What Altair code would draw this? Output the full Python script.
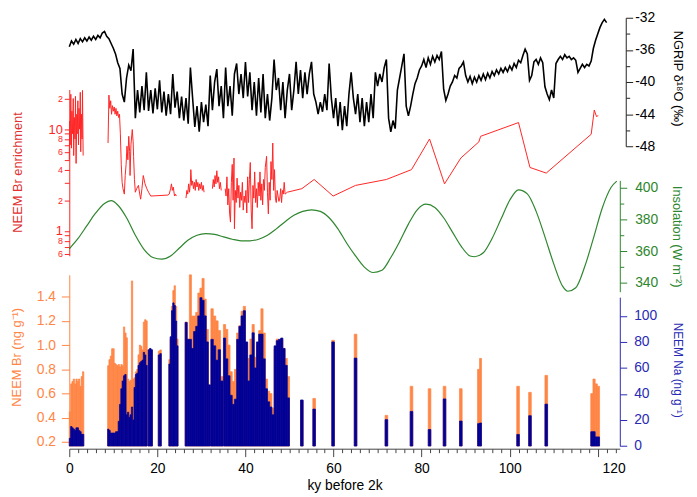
import altair as alt
import pandas as pd

FONT = "Liberation Sans"
RED = "#ff2424"
GREEN = "#2e862e"
ORANGE = "#ff8646"
BLUE_BAR = "#000096"
BLUE_AX = "#2a2ab4"

# ---------------- NGRIP d18O (0.5 ky grid, 0-122 ky) ----------------
ngrip_step = 0.5
ngrip_d18o = [
    -35.6, -34.9, -35.3, -34.7, -35.2, -34.6, -35.0, -34.5, -34.9, -34.4,
    -34.8, -34.3, -34.7, -34.2, -34.5, -33.9, -33.7, -34.3, -34.6, -35.2,
    -35.8, -36.5, -37.6, -38.3, -41.5, -42.5, -39.5, -37.9, -38.6, -35.9,
    -44.5, -41.0, -43.8, -40.5, -43.5, -38.8, -43.6, -41.0, -43.9, -40.8,
    -43.4, -39.8, -43.8, -41.2, -44.2, -41.5, -44.0, -39.0, -43.2, -41.2,
    -44.5, -41.8, -44.8, -42.0, -45.2, -38.2, -42.0, -45.6, -43.0, -46.2,
    -42.5, -45.0, -42.8, -45.5, -39.2, -43.5, -40.0, -38.4, -43.0, -40.5,
    -44.5, -38.2, -43.0, -40.5, -44.2, -39.0, -37.7, -41.5, -39.0, -42.0,
    -37.5, -41.8, -38.8, -43.5, -40.0, -44.2, -39.5, -43.8, -39.0, -44.5,
    -41.5, -44.8, -42.0, -37.2, -41.0, -39.5, -43.5, -40.0, -44.5, -41.0,
    -39.0, -43.5, -41.0, -37.5, -41.5, -38.5, -42.0, -38.8, -41.5, -39.0,
    -37.5, -41.5, -42.5, -44.0, -42.5, -43.7, -41.5, -43.5, -37.7, -42.0,
    -44.5, -42.0, -45.5, -42.5, -46.0, -43.0, -45.5, -41.5, -38.8, -42.0,
    -44.0, -41.5, -45.0, -42.0, -45.5, -42.5, -45.0, -41.5, -44.5, -38.8,
    -40.5, -39.0, -40.0, -38.2, -37.2, -44.5, -46.2, -44.8, -45.8, -41.0,
    -39.5, -38.0, -36.5, -43.0, -44.2, -43.0, -41.5, -40.2, -39.5, -38.5,
    -38.0, -37.2, -38.2, -37.0, -37.8, -36.8, -37.5, -36.7, -37.2, -36.2,
    -40.9, -42.3, -41.5, -40.5, -40.0, -39.2, -39.5, -38.3, -38.0, -37.5,
    -39.2, -40.0, -39.3, -40.2, -39.4, -40.0, -39.2, -39.8, -39.0, -39.7,
    -38.9, -39.5, -38.7, -39.2, -38.5, -39.0, -38.3, -38.8, -38.2, -38.7,
    -38.0, -38.5, -37.7, -38.2, -37.3, -37.6, -36.7, -35.9, -36.5, -39.8,
    -39.2, -37.5, -37.2, -37.8, -37.0, -37.6, -40.6, -41.5, -42.2, -41.0,
    -42.0, -37.7, -37.2, -36.8, -37.2, -36.6, -37.0, -36.8, -37.2, -37.0,
    -37.3, -38.8, -38.3, -37.8, -38.2, -37.8, -38.0, -37.4, -35.8, -34.8,
    -34.0, -33.2, -32.6, -32.2, -32.6,
]
ngrip_age = [i * ngrip_step for i in range(len(ngrip_d18o))]

# ---------------- NEEM Br enrichment (log) ----------------
enr_age_1 = [0.0, 0.1, 0.2, 0.35, 0.5, 0.6, 0.75, 0.9, 1.0, 1.15, 1.3, 1.4, 1.55,
             1.7, 1.8, 1.95, 2.1, 2.2, 2.35, 2.5, 2.6, 2.75, 2.9, 3.0, 3.15]
enr_val_1 = [5, 12, 7, 22, 6.5, 15, 9, 20, 5.5, 13, 8, 21, 4.6,
             14, 9, 19, 7, 16, 10, 23, 6, 14, 8, 24, 5.5]
enr_age_2 = [8.8, 9.0, 9.2, 9.4, 9.6, 9.8, 10.0, 10.2, 10.4, 10.6, 10.8, 11.0, 11.2,
             11.4, 11.6, 11.8, 12.0, 12.2, 12.5, 12.7, 12.9, 13.1, 13.3, 13.5, 13.7,
             13.8, 14.0, 14.3, 14.5, 14.6, 14.8, 15.0, 15.3, 15.7, 16.0, 16.2, 16.5,
             16.8, 17.2, 17.6, 18.0, 18.5, 22.4, 22.7, 23.0, 23.2, 23.4, 23.6, 23.9,
             24.1, 24.3]
enr_val_2 = [7.3, 21.6, 16, 19, 14, 17, 15, 16.5, 14, 16, 13.5, 15, 13,
             14, 9, 4.5, 3.0, 2.6, 2.3, 3.5, 4.5, 6.8, 5.0, 8.5, 6,
             3.5, 7, 9.9, 7.5, 5.4, 3.2, 2.4, 2.6, 2.8, 2.3, 2.05, 2.6,
             3.5, 2.9, 2.6, 2.4, 2.2, 2.25, 2.3, 2.6, 2.9, 2.5, 2.7, 2.2,
             2.3, 2.2]
enr_age_3 = [26.5, 26.7, 26.9, 27.1, 27.3, 27.5, 27.6, 27.8, 28.0, 28.2, 28.4,
             28.6, 28.8, 29.0, 29.2, 29.4, 29.6, 29.8, 30.0, 30.2, 30.4, 30.6]
enr_val_3 = [2.1, 2.5, 2.3, 2.9, 2.4, 3.0, 4.0, 2.8, 3.1, 2.6, 3.0,
             2.5, 3.2, 2.7, 3.0, 2.5, 2.9, 2.6, 3.0, 2.5, 2.8, 2.4]
enr_age_4 = [32.5, 32.7, 32.9, 33.1, 33.3, 33.5, 33.7, 33.9, 34.1, 34.3, 34.5]
enr_val_4 = [2.6, 3.2, 2.7, 3.5, 2.9, 3.9, 3.0, 3.4, 2.6, 3.0, 2.5]
enr_age_5 = [35.4, 35.6, 35.8, 36.0, 36.2, 36.4, 36.6, 36.8, 37.0, 37.2, 37.4, 37.5,
             37.7, 37.9, 38.1, 38.3, 38.5, 38.7, 38.9, 39.1, 39.3, 39.5, 39.7, 39.9,
             40.1, 40.3, 40.5, 40.7, 40.9, 41.1, 41.3, 41.5, 41.7, 41.9, 42.1, 42.3,
             42.5, 42.7, 42.9, 43.1, 43.3, 43.5, 43.7, 43.9, 44.1, 44.3, 44.5, 44.8,
             45.0, 45.2, 45.4, 45.6, 45.8, 46.0, 46.2, 46.4, 46.6, 46.8, 47.0, 47.2,
             47.4, 47.6, 47.8, 48.0, 48.2, 48.4, 48.6, 48.8, 49.0, 49.5,
             52.8, 55.6, 59.9, 65.0, 72.0, 77.7, 81.8, 85.2, 88.9, 93.0, 93.4,
             102.0, 104.6, 108.3, 118.5, 119.2, 119.7, 120.1]
enr_val_5 = [2.6, 2.2, 3.4, 1.8, 2.6, 1.5, 1.22, 3.0, 4.5, 2.0, 5.2, 1.05,
             2.5, 1.9, 3.3, 2.1, 2.8, 1.7, 2.4, 2.0, 3.0, 1.6, 2.2, 1.9,
             2.5, 1.5, 3.4, 1.9, 3.2, 4.7, 1.6, 1.05, 2.8, 2.1, 3.8, 1.9,
             2.6, 1.7, 3.0, 2.2, 3.8, 2.0, 2.9, 1.8, 3.2, 2.5, 4.2, 5.4,
             2.4, 1.47, 3.0, 2.0, 4.8, 3.2, 7.3, 2.5, 4.0, 2.1, 1.9, 2.5,
             2.2, 1.95, 2.1, 2.6, 1.9, 2.5, 2.3, 3.0, 2.3, 2.4,
             2.6, 3.2, 2.2, 2.8, 3.2, 4.0, 8.0, 2.9, 5.2, 7.5, 8.5,
             11.6, 4.2, 3.7, 8.9, 15.4, 13.3, 13.6]

# ---------------- Insolation ----------------
insol_age = [0, 2, 4, 6, 8, 9.5, 11, 13, 15, 17, 19, 21, 23, 25, 27, 29, 31, 33, 35, 37,
             39, 41, 43, 45, 47, 49, 51, 53, 55, 57, 59, 61, 63, 65, 67, 69, 71, 73, 75,
             77, 79, 81, 83, 85, 87, 89, 91, 92, 94, 96, 98, 100, 102, 104, 106, 108,
             110, 112, 113.2, 115, 117, 119, 121, 123, 124.3]
insol_val = [361.5, 368, 376, 384, 390, 391.7, 389, 381, 370, 361, 356, 355, 357, 362,
             367, 370, 371, 370.5, 369, 367.5, 366.5, 366.5, 367.5, 370, 374, 378.5,
             382.5, 385, 386, 385, 381, 374, 365, 357, 350, 346.6, 348, 356, 366, 377,
             386, 389.5, 387.5, 381, 372, 363, 357, 356.5, 359, 368, 380, 392, 398.5,
             396, 385, 369, 352, 338, 334.8, 337, 350, 368, 387, 400, 404]

# ---------------- NEEM Br / Na bars ----------------
# contiguous sample blocks: (first age, sample length, Br values, Na values)
blk_A = (0.0, 0.3, [0.45, 0.68, 0.70, 0.72, 0.68, 0.72, 0.70, 0.72, 0.66, 0.74, 0.78],
         [6, 15, 14, 13, 12, 14, 14, 12, 11, 9, 9])
blk_B = (8.7, 0.3,
         [0.83, 0.88, 0.91, 0.97, 0.97, 0.85, 0.84, 0.83, 0.84, 0.82, 0.84, 0.83, 1.15,
          1.10, 1.06, 0.72, 0.70, 0.71, 1.53, 0.72, 0.73, 0.78, 0.80, 0.92, 1.00, 0.99,
          0.96, 1.19, 1.21, 1.20],
         [13, 12, 10, 10, 10, 10, 11, 11, 19, 32, 44, 50, 54, 55, 24, 26, 22, 24, 30, 20,
          45, 55, 56, 62, 64, 65, 66, 72, 70, 62])
blk_C = (17.9, 0.33, [0.96, 0.97, 0.96], [74, 75, 74])
blk_D = (20.2, 0.35, [0.95, 0.96], [70, 71])
blk_E = (22.6, 0.3, [0.88, 1.05, 1.32, 1.45, 1.49, 1.32, 1.05],
         [63, 84, 104, 110, 108, 96, 77])
blk_F = (26.3, 0.48, [1.19, 1.05, 1.58, 1.24, 1.24, 1.27, 1.43, 1.47, 1.55, 1.38, 1.13, 0.67],
         [95, 82, 82, 75, 88, 92, 100, 114, 112, 100, 80, 47])
blk_G = (32.15, 0.55, [1.30, 1.24, 1.20, 1.12, 0.74], [82, 77, 66, 74, 50])
blk_H = (35.0, 0.5,
         [1.17, 1.13, 1.00, 0.78, 0.70, 0.80, 1.10, 1.16, 1.28, 1.32, 1.02, 0.89, 1.05,
          1.17, 0.90, 1.00, 1.12, 1.30, 1.10, 0.72, 0.62, 0.60, 0.48, 0.97, 1.05, 1.04,
          1.05, 0.97, 0.89, 0.74],
         [83, 67, 54, 39, 32, 36, 82, 92, 100, 104, 80, 50, 70, 87, 60, 80, 86, 86, 67,
          44, 34, 30, 24, 77, 81, 82, 83, 75, 62, 37])
iso_start = [52.5, 55.3, 59.6, 64.7, 71.7, 77.4, 81.5, 84.9, 88.6, 92.7, 93.15, 101.6,
             104.3, 108.0, 118.4, 118.9, 119.4, 119.9]
iso_end = [53.1, 55.9, 60.2, 65.3, 72.3, 78.0, 82.1, 85.5, 89.2, 93.15, 93.6, 102.2,
           104.9, 108.6, 118.9, 119.4, 119.9, 120.4]
iso_br = [0.54, 0.56, 1.04, 1.09, 0.42, 0.66, 0.64, 0.66, 0.64, 0.80, 0.89, 0.66, 0.61,
          0.75, 0.60, 0.72, 0.68, 0.66]
iso_na = [35.4, 28.4, 80, 67.6, 20.3, 26.6, 12.7, 36.2, 19.2, 17.2, 17.7, 8.9, 23.3,
          32.2, 11, 11, 7, 7]

BR_BASE = 0.167

# ---------------- build tables ----------------
ngrip_df = pd.DataFrame({"age": ngrip_age, "d18O": ngrip_d18o})
enr_rows = []
for seg, (ages, vals) in enumerate([(enr_age_1, enr_val_1), (enr_age_2, enr_val_2),
                                     (enr_age_3, enr_val_3), (enr_age_4, enr_val_4),
                                     (enr_age_5, enr_val_5)]):
    for a, v in zip(ages, vals):
        enr_rows.append({"age": a, "enr": v, "seg": seg})
enr_df = pd.DataFrame(enr_rows)
insol_df = pd.DataFrame({"age": insol_age, "insol": insol_val})

bar_rows = []
for start, step, brs, nas in [blk_A, blk_B, blk_C, blk_D, blk_E, blk_F, blk_G, blk_H]:
    for i, (b, n) in enumerate(zip(brs, nas)):
        bar_rows.append({"start": start + i * step, "end": start + (i + 1) * step,
                         "br": b, "na": n})
for s, e, b, n in zip(iso_start, iso_end, iso_br, iso_na):
    bar_rows.append({"start": s, "end": e, "br": b, "na": n})
bars_df = pd.DataFrame(bar_rows)
bars_df["base"] = BR_BASE

# ---------------- scales & axes ----------------
xscale = alt.Scale(domain=[0, 125], nice=False, zero=False)
xaxis = alt.Axis(
    values=list(range(0, 125, 2)),
    tickSize={"condition": {"test": "datum.value % 20 === 0", "value": 8}, "value": 4},
    labelExpr="datum.value % 20 === 0 ? datum.label : ''",
    labelOffset={"condition": {"test": "datum.value === 120", "value": 16}, "value": 0},
    labelPadding=5, labelFontSize=14, labelFlush=False, labelOverlap=False,
    domainColor="#444", tickColor="#444", labelColor="black",
    titleFontSize=14, titlePadding=3, titleColor="black", grid=False,
)


def X(field):
    return alt.X(f"{field}:Q", scale=xscale, axis=xaxis, title="ky before 2k")


red_labels = ("datum.value == 20 ? '2' : datum.value == 10 ? '10' : datum.value == 8 ? '8' : "
              "datum.value == 6 ? '6' : datum.value == 4 ? '4' : datum.value == 2 ? '2' : "
              "datum.value == 1 ? '1' : abs(datum.value - 0.8) < 0.01 ? '8' : "
              "abs(datum.value - 0.6) < 0.01 ? '6' : ''")

ngrip_layer = alt.Chart(ngrip_df).mark_line(color="black", strokeWidth=1.6).encode(
    x=X("age"),
    y=alt.Y("d18O:Q",
            scale=alt.Scale(domain=[-48, -32], range=[135, 5], nice=False, zero=False),
            axis=alt.Axis(orient="right", offset=6, values=list(range(-48, -31, 2)),
                          tickSize={"condition": {"test": "datum.value % 4 === 0", "value": 7}, "value": 4},
                          labelExpr="datum.value % 4 === 0 ? '' + datum.value : ''",
                          labelPadding=2, labelFontSize=14, labelColor="black",
                          domainColor="#222", tickColor="#222", labelOverlap=False,
                          titleColor="black", titleFontSize=13, titleAngle=90,
                          titleX=52, titleY=66, titleAlign="center", titleBaseline="middle"),
            title="NGRIP δ¹⁸O (‰)"),
)

enr_layer = alt.Chart(enr_df).mark_line(color=RED, strokeWidth=1).encode(
    x=X("age"),
    y=alt.Y("enr:Q",
            scale=alt.Scale(type="log", domain=[0.57, 24.5], range=[245.8, 77.6], nice=False),
            axis=alt.Axis(orient="left", values=[0.6, 0.7, 0.8, 0.9, 1, 2, 3, 4, 5, 6, 7, 8, 9, 10, 20],
                          labelExpr=red_labels,
                          labelFontSize={"condition": {"test": "datum.value == 10 || datum.value == 1", "value": 13}, "value": 9},
                          tickSize=5, labelPadding=2, labelOverlap=False,
                          labelColor=RED, domainColor=RED, tickColor=RED,
                          titleColor="#e03030", titleFontSize=13, titleAngle=270,
                          titleX=-52, titleY=161, titleAlign="center", titleBaseline="middle"),
            title="NEEM Br enrichment"),
    detail="seg:N",
)

insol_layer = alt.Chart(insol_df).mark_line(color=GREEN, strokeWidth=1.2, interpolate="monotone").encode(
    x=X("age"),
    y=alt.Y("insol:Q",
            scale=alt.Scale(domain=[334.5, 404.5], range=[282.2, 169.5], nice=False, zero=False),
            axis=alt.Axis(orient="right", offset=0, values=list(range(340, 401, 10)),
                          tickSize={"condition": {"test": "datum.value % 20 === 0", "value": 7}, "value": 4},
                          labelExpr="datum.value % 20 === 0 ? datum.label : ''",
                          labelPadding=8, labelFontSize=14, labelColor=GREEN,
                          domainColor=GREEN, tickColor=GREEN, labelOverlap=False,
                          titleColor=GREEN, titleFontSize=13, titleAngle=90,
                          titleX=57, titleY=226, titleAlign="center", titleBaseline="middle"),
            title="Insolation (W m⁻²)"),
)

br_layer = alt.Chart(bars_df).mark_rect(color=ORANGE, stroke=ORANGE, strokeWidth=0.7).encode(
    x=X("start"), x2="end:Q",
    y=alt.Y("br:Q",
            scale=alt.Scale(domain=[BR_BASE, 1.58], range=[438.3, 265.1], nice=False, zero=False),
            axis=alt.Axis(orient="left", values=[0.2, 0.4, 0.6, 0.8, 1.0, 1.2, 1.4], format=".1f",
                          tickSize=8, labelPadding=6, labelFontSize=14, labelColor=ORANGE,
                          domainColor=ORANGE, tickColor=ORANGE, labelOverlap=False,
                          titleColor=ORANGE, titleFontSize=13, titleAngle=270,
                          titleX=-53, titleY=348, titleAlign="center", titleBaseline="middle"),
            title="NEEM Br (ng g⁻¹)"),
    y2="base:Q",
)

na_layer = alt.Chart(bars_df).mark_rect(color=BLUE_BAR, stroke=BLUE_BAR, strokeWidth=0.7).encode(
    x=X("start"), x2="end:Q",
    y=alt.Y("na:Q",
            scale=alt.Scale(domain=[0, 114.4], range=[438.3, 287.7], nice=False, zero=False),
            axis=alt.Axis(orient="right", offset=0, values=[0, 20, 40, 60, 80, 100],
                          tickSize=7, labelPadding=7, labelFontSize=14, labelColor=BLUE_AX,
                          domainColor=BLUE_AX, tickColor=BLUE_AX, labelOverlap=False,
                          titleColor=BLUE_AX, titleFontSize=12, titleAngle=90,
                          titleX=58, titleY=361, titleAlign="center", titleBaseline="middle"),
            title="NEEM Na (ng g⁻¹)"),
    y2=alt.Y2(datum=0),
)

chart = alt.layer(ngrip_layer, enr_layer, insol_layer, br_layer, na_layer).resolve_scale(
    y="independent"
).properties(
    width=557, height=441,
    autosize=alt.AutoSizeParams(type="none"),
    padding={"left": 62, "top": 2, "right": 70, "bottom": 46},
).configure_view(stroke=None).configure_axis(
    grid=False, labelFont=FONT, titleFont=FONT, titleFontWeight="normal",
    domainWidth=1, tickWidth=1,
)

chart.save("out.html", embed_options={"renderer": "svg", "actions": False})
